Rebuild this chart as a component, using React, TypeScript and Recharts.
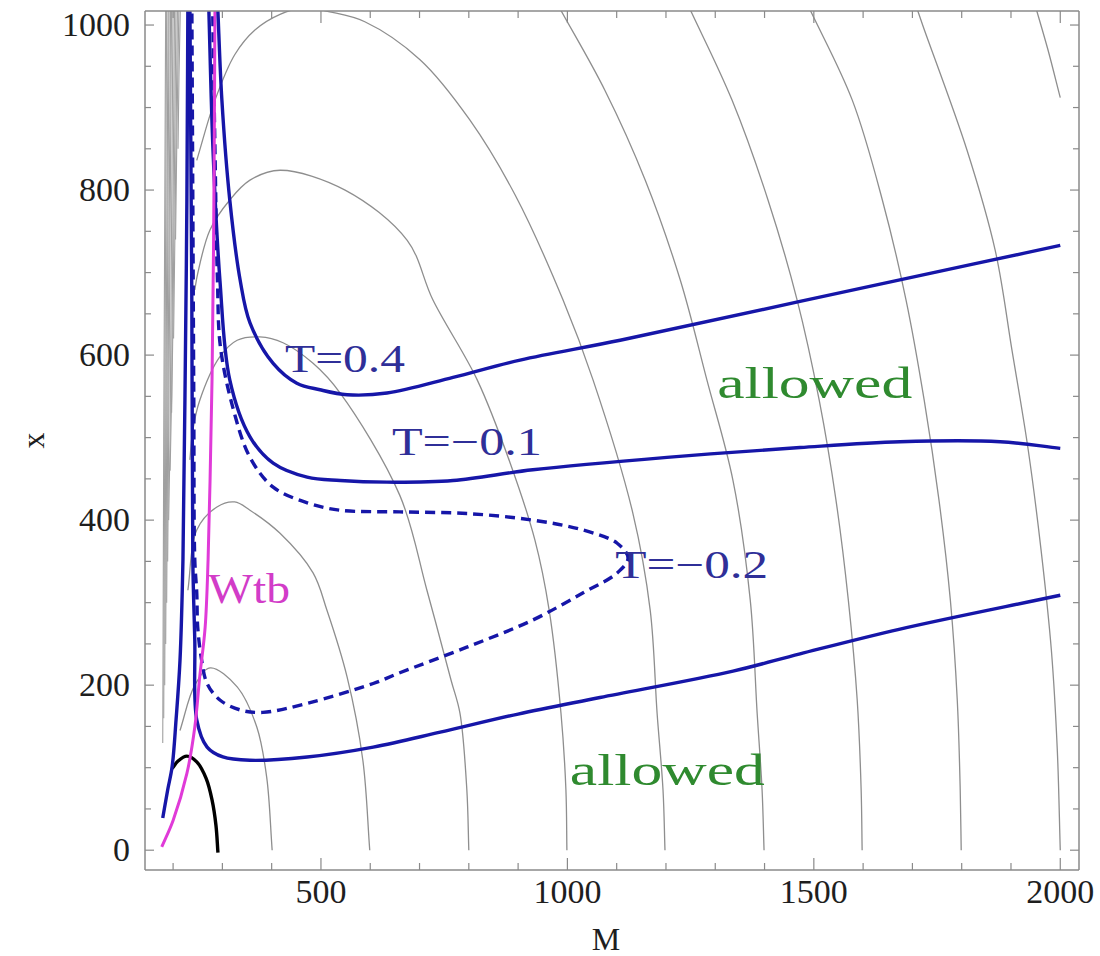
import { LineChart, Line, XAxis, YAxis, ReferenceDot } from "recharts";

type Pt = [number, number];

// Each contour is a list of [M, x] points.
const tPlus04: Pt[] = [
  [290, 1030], [299, 909], [315, 788], [336, 691], [356, 639], [403, 590], [451, 566],
  [498, 558], [553, 552], [634, 554], [768, 573], [904, 594], [1107, 618], [1472, 665], [2000, 733],
];

const tMinus01: Pt[] = [
  [272, 1030], [281, 848], [295, 691], [315, 570], [356, 501], [403, 469], [472, 452],
  [539, 448], [634, 446], [768, 448], [930, 461], [1202, 476], [1472, 488], [1675, 495],
  [1878, 495], [2000, 487],
];

// dashed T = -0.2 loop: upper branch out to the tip, lower branch back and up the wall
const tMinus02: Pt[] = [
  [280, 1030], [285, 848], [290, 691], [296, 610], [321, 537], [356, 476], [403, 440],
  [472, 421], [539, 412], [660, 410], [796, 408], [930, 400], [1032, 388], [1101, 372],
  [1123, 354], [1101, 336], [1032, 312], [930, 279], [796, 246], [660, 215], [606, 202],
  [472, 178], [382, 167], [336, 170], [295, 182], [269, 202], [258, 230], [250, 270],
  [248, 312], [244, 352], [242, 545], [240, 788], [238, 1030],
];

const lowerSolid: Pt[] = [
  [234, 1030], [238, 667], [240, 352], [244, 255], [248, 158], [269, 125], [301, 113],
  [356, 109], [472, 113], [606, 125], [742, 143], [900, 165], [1066, 185], [1336, 217],
  [1472, 238], [1675, 268], [2000, 309],
];

const leftWall: Pt[] = [
  [179, 39], [189, 73], [198, 101], [206, 158], [214, 230], [220, 352], [224, 545],
  [228, 788], [230, 1030],
];

const blackArc: Pt[] = [
  [198, 99], [210, 108], [228, 114], [248, 107], [267, 87], [279, 61], [287, 30], [291, -3],
];

const wtb: Pt[] = [
  [177, 4], [200, 36], [228, 93], [244, 149], [254, 210], [265, 270], [271, 352],
  [275, 448], [279, 570], [282, 727], [284, 909], [285, 1030],
];

// grey background contours
const greyArcs: Pt[][] = [
  [[214, 145], [244, 200], [275, 221], [330, 198], [370, 149], [390, 88], [401, 0]],
  [[230, 315], [248, 388], [289, 416], [325, 422], [356, 412], [417, 384], [484, 336],
    [512, 291], [553, 210], [585, 109], [599, 0]],
  [[234, 473], [240, 509], [254, 545], [295, 598], [330, 618], [376, 622], [423, 615],
    [484, 590], [539, 554], [660, 430], [715, 315], [764, 206], [782, 166], [796, 73], [800, 0]],
  [[244, 679], [250, 699], [275, 752], [315, 788], [356, 812], [417, 824], [549, 800],
    [675, 739], [727, 667], [817, 570], [884, 469], [934, 376], [963, 291], [987, 166],
    [997, 73], [999, 0]],
  [[248, 836], [285, 909], [325, 964], [366, 994], [417, 1013], [468, 1021], [518, 1016],
    [589, 1004], [701, 958], [802, 885], [894, 794], [991, 667], [1052, 570], [1133, 408],
    [1168, 291], [1182, 166], [1194, 73], [1198, 0]],
  [[981, 1024], [1076, 921], [1158, 812], [1229, 691], [1283, 570], [1336, 448],
    [1371, 303], [1385, 166], [1395, 73], [1399, 0]],
  [[1245, 1024], [1334, 909], [1407, 788], [1466, 667], [1511, 545], [1545, 424],
    [1570, 303], [1588, 182], [1596, 73], [1598, 0]],
  [[1488, 1024], [1578, 909], [1639, 788], [1687, 667], [1724, 545], [1754, 424],
    [1777, 303], [1791, 182], [1797, 73], [1799, 0]],
  [[1707, 1024], [1722, 998], [1811, 848], [1868, 727], [1902, 606], [1935, 485],
    [1961, 364], [1982, 242], [1994, 121], [2000, 0]],
  [[1949, 1024], [1975, 970], [2000, 912]],
];

// contours bunched against the left edge
const greyWall: Pt[][] = [
  [[185, 1030], [181, 500], [179, 130]],
  [[187, 1030], [183, 500], [181, 160]],
  [[190, 1030], [185, 500], [183, 200]],
  [[192, 1030], [187, 500], [185, 250]],
  [[195, 1030], [189, 500], [187, 300]],
  [[197, 1030], [191, 500], [189, 350]],
  [[200, 1030], [194, 500], [191, 400]],
  [[203, 1030], [197, 550], [194, 460]],
  [[206, 1030], [200, 650], [197, 530]],
  [[209, 1030], [204, 760], [201, 620]],
  [[212, 1030], [208, 880], [205, 740]],
  [[215, 1030], [212, 940], [210, 850]],
];

const X_TICKS = [200, 300, 400, 500, 600, 700, 800, 900, 1000, 1100, 1200, 1300, 1400,
  1500, 1600, 1700, 1800, 1900, 2000];
const X_LABELS = [500, 1000, 1500, 2000];
const Y_TICKS = [0, 50, 100, 150, 200, 250, 300, 350, 400, 450, 500, 550, 600, 650, 700,
  750, 800, 850, 900, 950, 1000];
const Y_LABELS = [0, 200, 400, 600, 800, 1000];

// annotation text: [text, M, x, kind, width]
const NOTES: [string, number, number, string, number][] = [
  ["T=0.4", 427, 579, "t", 120],
  ["T=\u22120.1", 644, 479, "t", 150],
  ["T=\u22120.2", 1097, 330, "t", 153],
  ["Wtb", 271, 300, "w", 82],
  ["allowed", 1304, 548, "a", 195],
  ["allowed", 1005, 79, "a", 195],
];

const SERIF = '"Liberation Serif", "Times New Roman", serif';
const FRAME = "#8a8a8a";
const BLUE = "#1616a8";
const GREY = "#8e8e8e";
const NOTE_STYLE: Record<string, { color: string; size: number }> = {
  t: { color: "#2f2f98", size: 40 },
  w: { color: "#d23cc8", size: 42 },
  a: { color: "#2f8a2f", size: 44 },
};

const rows = (pts: Pt[]) => pts.map(([M, x]) => ({ M, x }));

// centripetal Catmull-Rom through the traced points (no overshoot at uneven spacing)
function catmullRom(context: any) {
  let pts: number[][] = [];
  return {
    areaStart() {},
    areaEnd() {},
    lineStart() {
      pts = [];
    },
    point(x: number, y: number) {
      pts.push([+x, +y]);
    },
    lineEnd() {
      if (!pts.length) return;
      context.moveTo(pts[0][0], pts[0][1]);
      const dist = (a: number[], b: number[]) => Math.sqrt(Math.hypot(b[0] - a[0], b[1] - a[1]));
      for (let i = 0; i < pts.length - 1; i++) {
        const p1 = pts[i];
        const p2 = pts[i + 1];
        const p0 = pts[i - 1];
        const p3 = pts[i + 2];
        const d2 = dist(p1, p2) || 1e-6;
        let c1 = [p1[0] + (p2[0] - p1[0]) / 3, p1[1] + (p2[1] - p1[1]) / 3];
        let c2 = [p2[0] - (p2[0] - p1[0]) / 3, p2[1] - (p2[1] - p1[1]) / 3];
        if (p0) {
          const d1 = dist(p0, p1);
          if (d1 > 1e-6) {
            const a = 2 * d1 * d1 + 3 * d1 * d2 + d2 * d2;
            const n = 3 * d1 * (d1 + d2);
            c1 = [0, 1].map((k) => (p1[k] * a - p0[k] * d2 * d2 + p2[k] * d1 * d1) / n);
          }
        }
        if (p3) {
          const d3 = dist(p2, p3);
          if (d3 > 1e-6) {
            const b = 2 * d3 * d3 + 3 * d3 * d2 + d2 * d2;
            const m = 3 * d3 * (d3 + d2);
            c2 = [0, 1].map((k) => (p2[k] * b + p1[k] * d3 * d3 - p3[k] * d2 * d2) / m);
          }
        }
        context.bezierCurveTo(c1[0], c1[1], c2[0], c2[1], p2[0], p2[1]);
      }
    },
  };
}

function BottomTick(props: any) {
  const { x, y, payload } = props;
  const major = X_LABELS.includes(payload.value);
  return (
    <g>
      <line x1={x} y1={y} x2={x} y2={y - (major ? 12 : 7)} stroke={FRAME} strokeWidth={1.2} />
      {major && (
        <text x={x} y={y + 33} textAnchor="middle" fontFamily={SERIF} fontSize={34} fill="#1e1e1e">
          {payload.value}
        </text>
      )}
    </g>
  );
}

function TopTick(props: any) {
  const { x, y, payload } = props;
  const major = X_LABELS.includes(payload.value);
  return <line x1={x} y1={y} x2={x} y2={y + (major ? 12 : 7)} stroke={FRAME} strokeWidth={1.2} />;
}

function LeftTick(props: any) {
  const { x, y, payload } = props;
  const major = Y_LABELS.includes(payload.value);
  return (
    <g>
      <line x1={x} y1={y} x2={x + (major ? 9 : 6)} y2={y} stroke={FRAME} strokeWidth={1.2} />
      {major && (
        <text x={x - 15} y={y + 11} textAnchor="end" fontFamily={SERIF} fontSize={34} fill="#1e1e1e">
          {payload.value}
        </text>
      )}
    </g>
  );
}

function RightTick(props: any) {
  const { x, y, payload } = props;
  const major = Y_LABELS.includes(payload.value);
  return <line x1={x} y1={y} x2={x - (major ? 9 : 6)} y2={y} stroke={FRAME} strokeWidth={1.2} />;
}

function curve(key: string, pts: Pt[], stroke: string, width: number, dash?: string, straight?: boolean) {
  return (
    <Line
      key={key}
      data={rows(pts)}
      dataKey="x"
      type={straight ? "linear" : (catmullRom as any)}
      stroke={stroke}
      strokeWidth={width}
      strokeDasharray={dash}
      dot={false}
      activeDot={false}
      isAnimationActive={false}
    />
  );
}

export default function App() {
  return (
    <div style={{ position: "absolute", left: 0, top: 0, background: "#fff" }}>
      <LineChart width={1100} height={956} margin={{ top: 10, right: 20, bottom: 0, left: 0 }}>
        <XAxis
          type="number"
          dataKey="M"
          domain={[143, 2038]}
          allowDataOverflow
          ticks={X_TICKS}
          interval={0}
          tickSize={0}
          tickMargin={0}
          tickLine={false}
          tick={<BottomTick />}
          axisLine={{ stroke: FRAME, strokeWidth: 1.5 }}
          height={86}
          label={{
            content: (p: any) => (
              <text
                x={p.viewBox.x + p.viewBox.width / 2 - 6}
                y={p.viewBox.y + 80}
                textAnchor="middle"
                fontFamily={SERIF}
                fontSize={32}
                fill="#1e1e1e"
              >
                M
              </text>
            ),
          }}
        />
        <XAxis
          xAxisId="top"
          orientation="top"
          type="number"
          dataKey="M"
          domain={[143, 2038]}
          allowDataOverflow
          ticks={X_TICKS}
          interval={0}
          tickSize={0}
          tickMargin={0}
          tickLine={false}
          tick={<TopTick />}
          axisLine={{ stroke: FRAME, strokeWidth: 1.5 }}
          height={1}
        />
        <YAxis
          type="number"
          domain={[-24, 1017]}
          allowDataOverflow
          ticks={Y_TICKS}
          interval={0}
          tickSize={0}
          tickMargin={0}
          tickLine={false}
          tick={<LeftTick />}
          axisLine={{ stroke: FRAME, strokeWidth: 1.5 }}
          width={145}
          label={{
            content: (p: any) => {
              const cx = p.viewBox.x + 33;
              const cy = p.viewBox.y + p.viewBox.height / 2;
              return (
                <text
                  x={cx}
                  y={cy}
                  transform={`rotate(-90 ${cx} ${cy})`}
                  textAnchor="middle"
                  dominantBaseline="central"
                  fontFamily={SERIF}
                  fontSize={32}
                  fill="#1e1e1e"
                >
                  x
                </text>
              );
            },
          }}
        />
        <YAxis
          yAxisId="right"
          orientation="right"
          type="number"
          domain={[-24, 1017]}
          allowDataOverflow
          ticks={Y_TICKS}
          interval={0}
          tickSize={0}
          tickMargin={0}
          tickLine={false}
          tick={<RightTick />}
          axisLine={{ stroke: FRAME, strokeWidth: 1.5 }}
          width={1}
        />

        {greyWall.map((pts, i) => curve(`wall${i}`, pts, "#a0a0a0", 1.1, undefined, true))}
        {greyArcs.map((pts, i) => curve(`arc${i}`, pts, GREY, 1.3))}

        {curve("black", blackArc, "#000000", 3.4)}
        {curve("left", leftWall, BLUE, 3.4)}
        {curve("lower", lowerSolid, BLUE, 3.4)}
        {curve("t02", tMinus02, BLUE, 3.4, "10 6")}
        {curve("t01", tMinus01, BLUE, 3.4)}
        {curve("wtb", wtb, "#e03ad8", 3)}
        {curve("t04", tPlus04, BLUE, 3.4)}

        {NOTES.map(([text, M, x, kind, width], i) => {
          const s = NOTE_STYLE[kind];
          return (
            <ReferenceDot
              key={`note${i}`}
              x={M}
              y={x}
              r={0}
              fill="none"
              stroke="none"
              ifOverflow="visible"
              label={{
                content: (p: any) => (
                  <text
                    x={p.viewBox.x}
                    y={p.viewBox.y}
                    fontFamily={SERIF}
                    fontSize={s.size}
                    fill={s.color}
                    textLength={width}
                    lengthAdjust="spacingAndGlyphs"
                  >
                    {text}
                  </text>
                ),
              }}
            />
          );
        })}
      </LineChart>
    </div>
  );
}
